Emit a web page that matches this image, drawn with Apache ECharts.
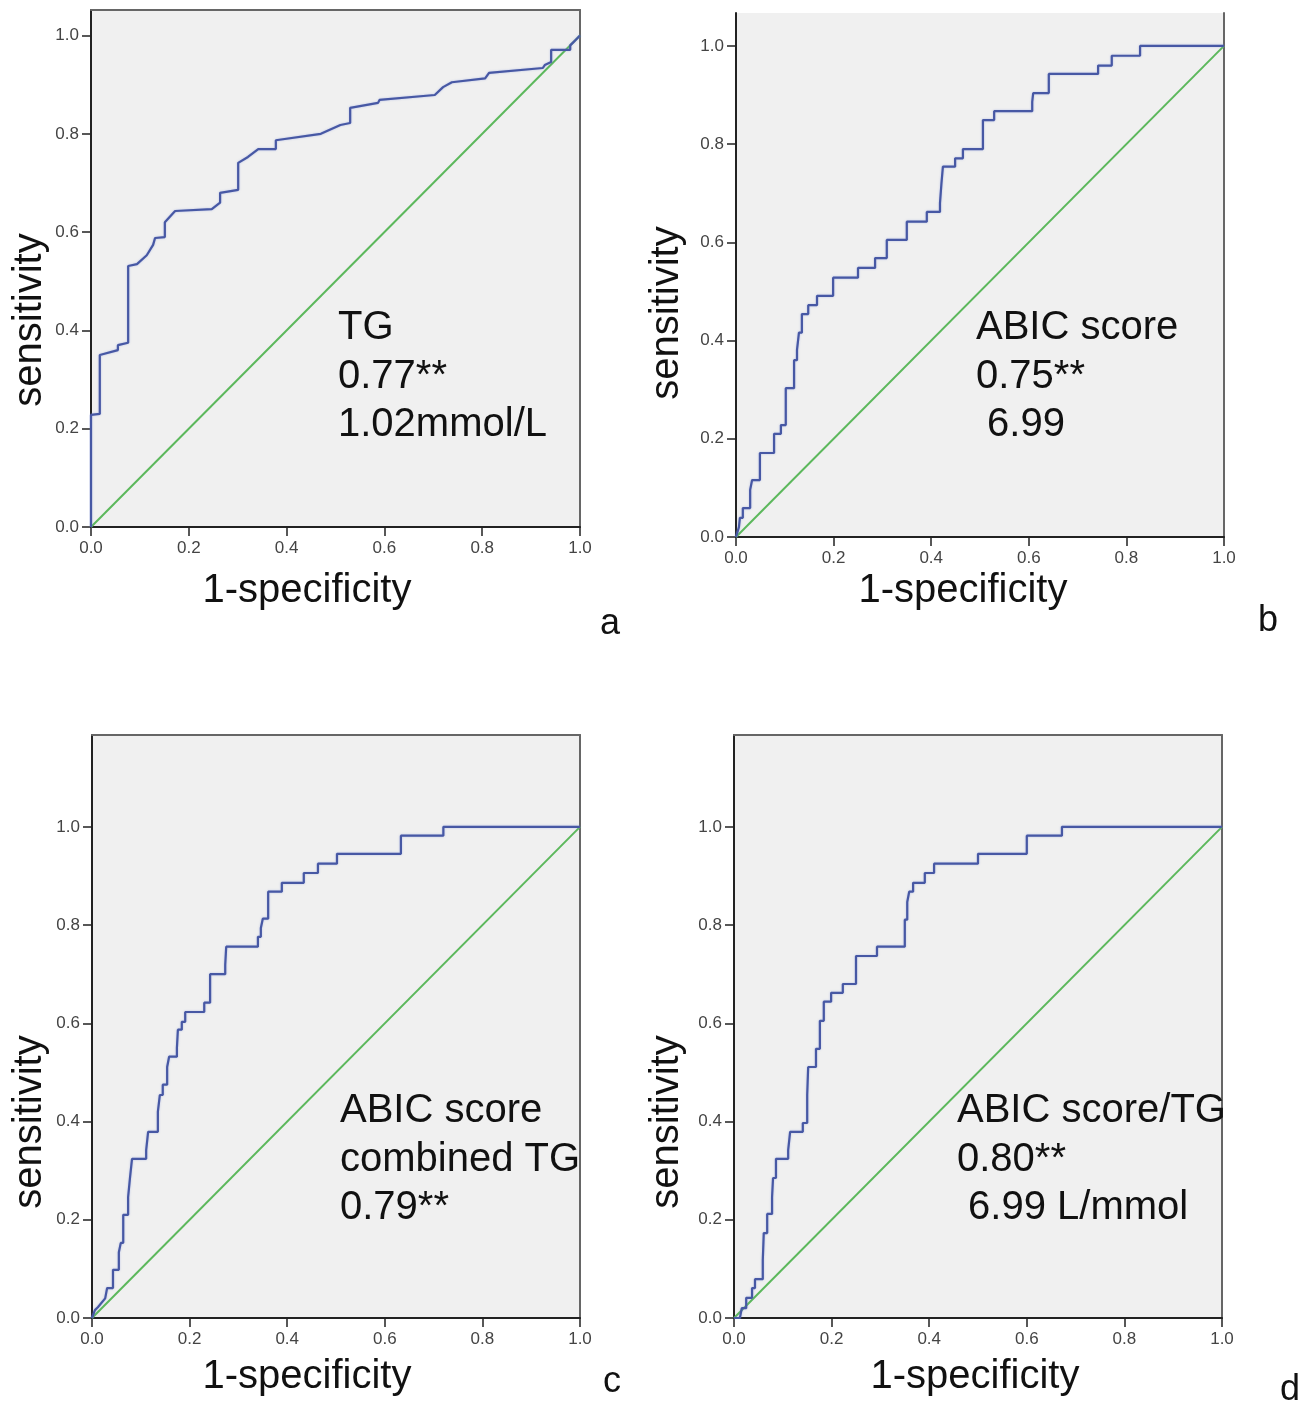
<!DOCTYPE html>
<html><head><meta charset="utf-8">
<script src="https://cdn.jsdelivr.net/npm/echarts@6/dist/echarts.min.js"></script>
<style>html,body{margin:0;padding:0;background:#fff}#c{width:1312px;height:1424px}</style>
</head><body><div id="c"></div>
<script>
// ROC curve vertices (1-specificity, sensitivity)
var rocA_x = [0,0,0.018,0.018,0.055,0.055,0.076,0.076,0.094,0.114,0.127,0.131,0.131,0.151,0.151,0.172,0.247,0.264,0.264,0.301,0.301,0.321,0.342,0.378,0.378,0.47,0.510,0.530,0.530,0.587,0.59,0.703,0.72,0.738,0.806,0.814,0.924,0.928,0.941,0.941,0.98,0.98,0.99,1];
var rocA_y = [0,0.228,0.23,0.35,0.36,0.37,0.375,0.531,0.535,0.553,0.574,0.574,0.588,0.59,0.62,0.643,0.647,0.66,0.68,0.686,0.741,0.753,0.769,0.769,0.787,0.80,0.818,0.822,0.853,0.863,0.869,0.879,0.895,0.905,0.913,0.924,0.934,0.94,0.946,0.971,0.971,0.98,0.99,1];

var rocB_x = [0,0.006,0.008,0.014,0.014,0.029,0.029,0.033,0.033,0.049,0.049,0.078,0.078,0.092,0.092,0.102,0.102,0.119,0.119,0.125,0.125,0.129,0.129,0.135,0.135,0.148,0.148,0.166,0.166,0.199,0.199,0.25,0.25,0.285,0.285,0.309,0.309,0.35,0.35,0.391,0.391,0.418,0.418,0.421,0.421,0.424,0.424,0.449,0.449,0.465,0.465,0.506,0.506,0.529,0.529,0.607,0.607,0.609,0.609,0.641,0.641,0.742,0.742,0.77,0.77,0.828,0.828,1];
var rocB_y = [0,0.02,0.039,0.039,0.059,0.059,0.096,0.096,0.116,0.116,0.171,0.171,0.21,0.21,0.228,0.228,0.303,0.303,0.36,0.36,0.381,0.381,0.416,0.416,0.454,0.454,0.472,0.472,0.491,0.491,0.528,0.528,0.548,0.548,0.568,0.568,0.605,0.605,0.642,0.642,0.662,0.662,0.68,0.68,0.72,0.72,0.754,0.754,0.771,0.771,0.79,0.79,0.849,0.849,0.867,0.867,0.886,0.886,0.904,0.904,0.943,0.943,0.96,0.96,0.98,0.98,1,1];

var rocC_x = [0,0.006,0.012,0.027,0.031,0.031,0.043,0.043,0.055,0.055,0.059,0.059,0.064,0.064,0.074,0.074,0.078,0.078,0.082,0.082,0.111,0.111,0.115,0.115,0.135,0.135,0.139,0.139,0.145,0.145,0.154,0.154,0.158,0.158,0.174,0.174,0.176,0.176,0.184,0.184,0.191,0.191,0.23,0.23,0.242,0.242,0.273,0.273,0.275,0.275,0.34,0.34,0.346,0.346,0.35,0.35,0.361,0.361,0.389,0.389,0.434,0.434,0.463,0.463,0.502,0.502,0.633,0.633,0.72,0.72,1];
var rocC_y = [0,0.016,0.022,0.04,0.04,0.061,0.061,0.098,0.098,0.134,0.134,0.153,0.153,0.21,0.21,0.246,0.246,0.287,0.287,0.324,0.324,0.342,0.342,0.379,0.379,0.42,0.42,0.454,0.454,0.475,0.475,0.511,0.511,0.532,0.532,0.55,0.55,0.587,0.587,0.603,0.603,0.623,0.623,0.642,0.642,0.7,0.7,0.719,0.719,0.756,0.756,0.776,0.776,0.794,0.794,0.813,0.813,0.868,0.868,0.886,0.886,0.906,0.906,0.925,0.925,0.945,0.945,0.982,0.982,1,1];

var rocD_x = [0,0.012,0.016,0.025,0.025,0.037,0.037,0.043,0.043,0.059,0.059,0.061,0.061,0.068,0.068,0.078,0.078,0.08,0.08,0.086,0.086,0.111,0.111,0.115,0.115,0.141,0.141,0.15,0.15,0.152,0.152,0.168,0.168,0.176,0.176,0.184,0.184,0.199,0.199,0.223,0.223,0.25,0.25,0.293,0.293,0.35,0.35,0.355,0.355,0.359,0.359,0.367,0.367,0.391,0.391,0.41,0.41,0.5,0.5,0.6,0.6,0.672,0.672,1];
var rocD_y = [0,0,0.02,0.02,0.041,0.041,0.061,0.061,0.079,0.079,0.118,0.118,0.173,0.173,0.212,0.212,0.246,0.246,0.285,0.285,0.324,0.324,0.342,0.342,0.379,0.379,0.397,0.397,0.454,0.454,0.511,0.511,0.548,0.548,0.605,0.605,0.644,0.644,0.662,0.662,0.68,0.68,0.737,0.737,0.756,0.756,0.811,0.811,0.847,0.847,0.868,0.868,0.886,0.886,0.906,0.906,0.925,0.925,0.945,0.945,0.982,0.982,1,1];

var refLine_x = [0, 1];
var refLine_y = [0, 1];
var tickValues = [0, 0.2, 0.4, 0.6, 0.8, 1.0];
var panelLetters = ['a', 'b', 'c', 'd'];
var annotA = ['TG', '0.77**', '1.02mmol/L'];
var annotB = ['ABIC score', '0.75**', ' 6.99'];
var annotC = ['ABIC score', 'combined TG', '0.79**'];
var annotD = ['ABIC score/TG', '0.80**', ' 6.99 L/mmol'];
var xTitle = '1-specificity';
var yTitle = 'sensitivity';

function pairs(xs, ys) { return xs.map(function (x, i) { return [x, ys[i]]; }); }

var FONT = '"Liberation Sans", Arial, sans-serif';
var grids = [
  {left: 91, top: 10, width: 489, height: 517, ymax: 1.052, topBorder: true},
  {left: 736, top: 13, width: 488, height: 524, ymax: 1.067, topBorder: false},
  {left: 92, top: 735, width: 488, height: 583, ymax: 1.187, topBorder: true},
  {left: 734, top: 735, width: 488, height: 583, ymax: 1.187, topBorder: true}
];
var rocs = [pairs(rocA_x, rocA_y), pairs(rocB_x, rocB_y), pairs(rocC_x, rocC_y), pairs(rocD_x, rocD_y)];

var option = {
  animation: false,
  backgroundColor: '#ffffff',
  grid: [], xAxis: [], yAxis: [], series: [], graphic: []
};
var fmt = function (v) { return (+v).toFixed(1); };
grids.forEach(function (g, i) {
  option.grid.push({left: g.left, top: g.top, width: g.width, height: g.height, show: true,
    backgroundColor: '#f0f0f0', borderWidth: 0});
  option.xAxis.push({type: 'value', gridIndex: i, min: 0, max: 1, interval: 0.2,
    axisLine: {show: true, onZero: false, lineStyle: {color: '#222', width: 2}},
    axisTick: {show: true, length: 9, lineStyle: {color: '#222', width: 1.5}},
    axisLabel: {formatter: fmt, fontSize: 17, color: '#444', fontFamily: FONT, margin: 13},
    splitLine: {show: false}});
  option.yAxis.push({type: 'value', gridIndex: i, min: 0, max: g.ymax,
    axisLine: {show: true, onZero: false, lineStyle: {color: '#222', width: 2}},
    axisTick: {show: true, length: 9, customValues: tickValues, lineStyle: {color: '#222', width: 1.5}},
    axisLabel: {formatter: fmt, customValues: tickValues, fontSize: 17, color: '#444', fontFamily: FONT, margin: 12},
    splitLine: {show: false}});
  option.series.push({type: 'line', xAxisIndex: i, yAxisIndex: i, data: pairs(refLine_x, refLine_y),
    showSymbol: false, lineStyle: {color: '#5cb85c', width: 2}, z: 3});
  option.series.push({type: 'line', xAxisIndex: i, yAxisIndex: i, data: rocs[i],
    showSymbol: false, lineStyle: {color: '#4758a4', width: 2.2, shadowColor: 'rgba(120,140,220,0.5)', shadowBlur: 2}, z: 4});
});
grids.forEach(function (g, i) {
  option.xAxis.push({type: 'value', gridIndex: i, position: 'top', min: 0, max: 1,
    axisLine: {show: g.topBorder, onZero: false, lineStyle: {color: '#666', width: 2}},
    axisTick: {show: false}, axisLabel: {show: false}, splitLine: {show: false}});
  option.yAxis.push({type: 'value', gridIndex: i, position: 'right', min: 0, max: g.ymax,
    axisLine: {show: true, onZero: false, lineStyle: {color: '#666', width: 2}},
    axisTick: {show: false}, axisLabel: {show: false}, splitLine: {show: false}});
});

function txt(x, y, s, size, opts) {
  opts = opts || {};
  return {type: 'text', x: x, y: y, rotation: opts.rot || 0, z: 10,
    style: {text: s, fontSize: size, fontFamily: FONT, fill: '#111',
      textAlign: opts.align || 'left', textVerticalAlign: 'middle'}};
}
var annPos = [[338, 328, annotA], [976, 328, annotB], [340, 1111, annotC], [957, 1111, annotD]];
annPos.forEach(function (p) {
  p[2].forEach(function (s, k) { option.graphic.push(txt(p[0], p[1] + k * 48.5, s, 40)); });
});
var titles = [[307, 591, 30, 320], [963, 591, 667, 313], [307, 1377, 30, 1122], [975, 1377, 667, 1122]];
titles.forEach(function (t) {
  option.graphic.push(txt(t[0], t[1], xTitle, 40, {align: 'center'}));
  option.graphic.push(txt(t[2], t[3], yTitle, 40, {align: 'center', rot: Math.PI / 2}));
});
var letterPos = [[610, 624], [1268, 621], [612, 1382], [1290, 1390]];
letterPos.forEach(function (p, i) { option.graphic.push(txt(p[0], p[1], panelLetters[i], 36, {align: 'center'})); });

var chart = echarts.init(document.getElementById('c'), null, {renderer: 'canvas'});
chart.setOption(option);
</script></body></html>
